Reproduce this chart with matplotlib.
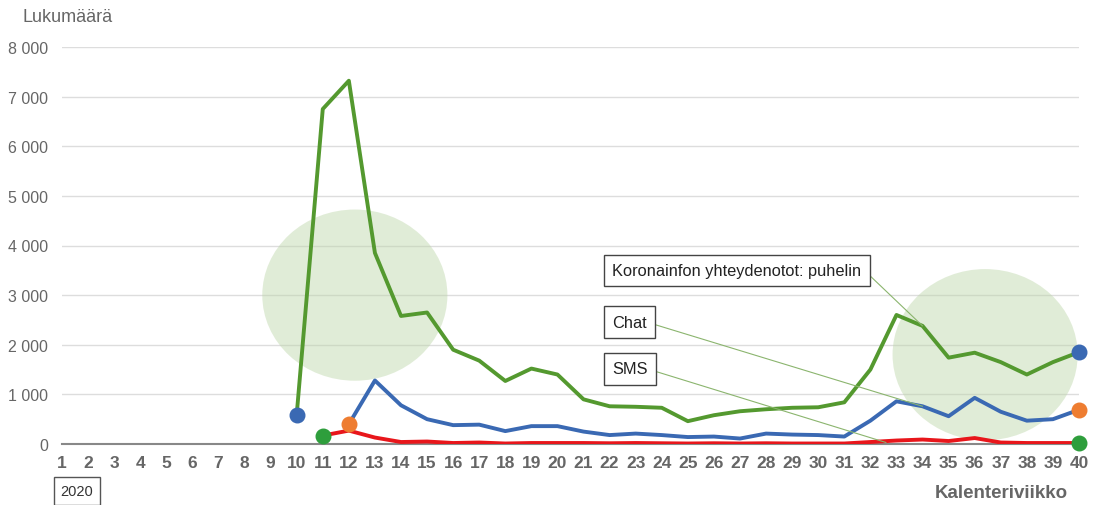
import matplotlib.pyplot as plt
import numpy as np
from matplotlib.patches import Ellipse

plt.rcParams['font.family'] = ['Liberation Sans', 'DejaVu Sans']

weeks = np.arange(1, 41)

# Koronainfon yhteydenotot: puhelin (viikot 10-40)
phone_weeks = np.arange(10, 41)
phone = [590, 6750, 7320, 3850, 2580, 2650, 1900, 1680, 1270, 1520,
         1400, 900, 760, 750, 730, 460, 580, 660, 700, 730,
         740, 840, 1500, 2600, 2380, 1740, 1840, 1650, 1400, 1650, 1850]

# Chat (viikot 12-40)
chat_weeks = np.arange(12, 41)
chat = [400, 1280, 780, 500, 380, 390, 260, 360, 360, 250,
        180, 210, 180, 140, 150, 110, 210, 190, 180, 150,
        470, 860, 760, 560, 930, 650, 470, 500, 690]

# SMS (viikot 11-40)
sms_weeks = np.arange(11, 41)
sms = [170, 270, 130, 40, 50, 20, 30, 10, 20, 20,
       20, 15, 20, 15, 10, 15, 10, 15, 10, 10,
       10, 40, 70, 90, 60, 120, 30, 20, 20, 20]

yticks = [0, 1000, 2000, 3000, 4000, 5000, 6000, 7000, 8000]
ylabels = ['0', '1 000', '2 000', '3 000', '4 000', '5 000', '6 000', '7 000', '8 000']

green = '#54992f'
blue = '#3a69b3'
red = '#e8161b'
orange = '#ee7d31'
dotgreen = '#2e9e3c'
gray = '#666666'

fig = plt.figure(figsize=(10.99, 5.06), dpi=100)
ax = fig.add_axes([62/1099, 1-445/506, (1079-62)/1099, (445-48)/506])

# highlight circles (translucent so the grid shows through)
for cx, cy in [(12.23, 3000), (36.4, 1800)]:
    ax.add_patch(Ellipse((cx, cy), 7.1, 3450, facecolor='#bcd6a8', alpha=0.45,
                         edgecolor='none', zorder=2))

ax.plot(phone_weeks, phone, color=green, lw=2.8, zorder=3)
ax.plot(chat_weeks, chat, color=blue, lw=2.8, zorder=3)
ax.plot(sms_weeks, sms, color=red, lw=2.8, zorder=3)

# end point markers
ax.scatter([phone_weeks[0], phone_weeks[-1]], [phone[0], phone[-1]], color=blue, s=110, zorder=5, clip_on=False)
ax.scatter([chat_weeks[0], chat_weeks[-1]], [chat[0], chat[-1]], color=orange, s=110, zorder=5, clip_on=False)
ax.scatter([sms_weeks[0], sms_weeks[-1]], [sms[0], sms[-1]], color=dotgreen, s=110, zorder=5, clip_on=False)

ax.set_xlim(1, 40)
ax.set_ylim(0, 8000)
ax.set_yticks(yticks)
ax.set_yticklabels(ylabels)
ax.set_xticks(weeks)
ax.grid(axis='y', color='#dddddd', lw=1)
ax.set_axisbelow(True)
for s in ['top', 'right', 'left']:
    ax.spines[s].set_visible(False)
ax.spines['bottom'].set_color('#888888')
ax.spines['bottom'].set_linewidth(1.5)
ax.tick_params(axis='both', length=0)
ax.tick_params(axis='y', labelsize=11.5, labelcolor=gray, pad=10)
ax.tick_params(axis='x', labelsize=12.5, labelcolor=gray, pad=8)
for t in ax.get_xticklabels():
    t.set_fontweight('bold')

fig.text(22/1099, 1-17/506, 'Lukumäärä', fontsize=13, color=gray, va='center')
fig.text(1001/1099, 1-494/506, 'Kalenteriviikko', fontsize=13.5, color=gray,
         fontweight='bold', ha='center', va='center')
fig.text(77/1099, 1-492/506, '2020', fontsize=10.5, color='#333333', ha='center', va='center',
         bbox=dict(boxstyle='square,pad=0.45', facecolor='white', edgecolor='#555555'))

# annotation labels with leader lines
box = dict(boxstyle='square,pad=0.5', facecolor='white', edgecolor='#444444', lw=1)
line = dict(arrowstyle='-', color='#8bb56e', lw=0.8, shrinkA=0, shrinkB=0)
ax.annotate('Koronainfon yhteydenotot: puhelin', xy=(34, phone[24]), xytext=(0.541, 0.437),
            textcoords='axes fraction', fontsize=11.8, color='#222222', va='center', ha='left', bbox=box,
            arrowprops=dict(line, relpos=(1, 0.7)), zorder=6)
ax.annotate('Chat', xy=(34, chat[22]), xytext=(0.541, 0.307),
            textcoords='axes fraction', fontsize=11.8, color='#222222', va='center', ha='left', bbox=box,
            arrowprops=dict(line, relpos=(1, 0.5)), zorder=6)
ax.annotate('SMS', xy=(32.6, 30), xytext=(0.541, 0.189),
            textcoords='axes fraction', fontsize=11.8, color='#222222', va='center', ha='left', bbox=box,
            arrowprops=dict(line, relpos=(1, 0.5)), zorder=6)

fig.savefig('out.png', dpi=100)
